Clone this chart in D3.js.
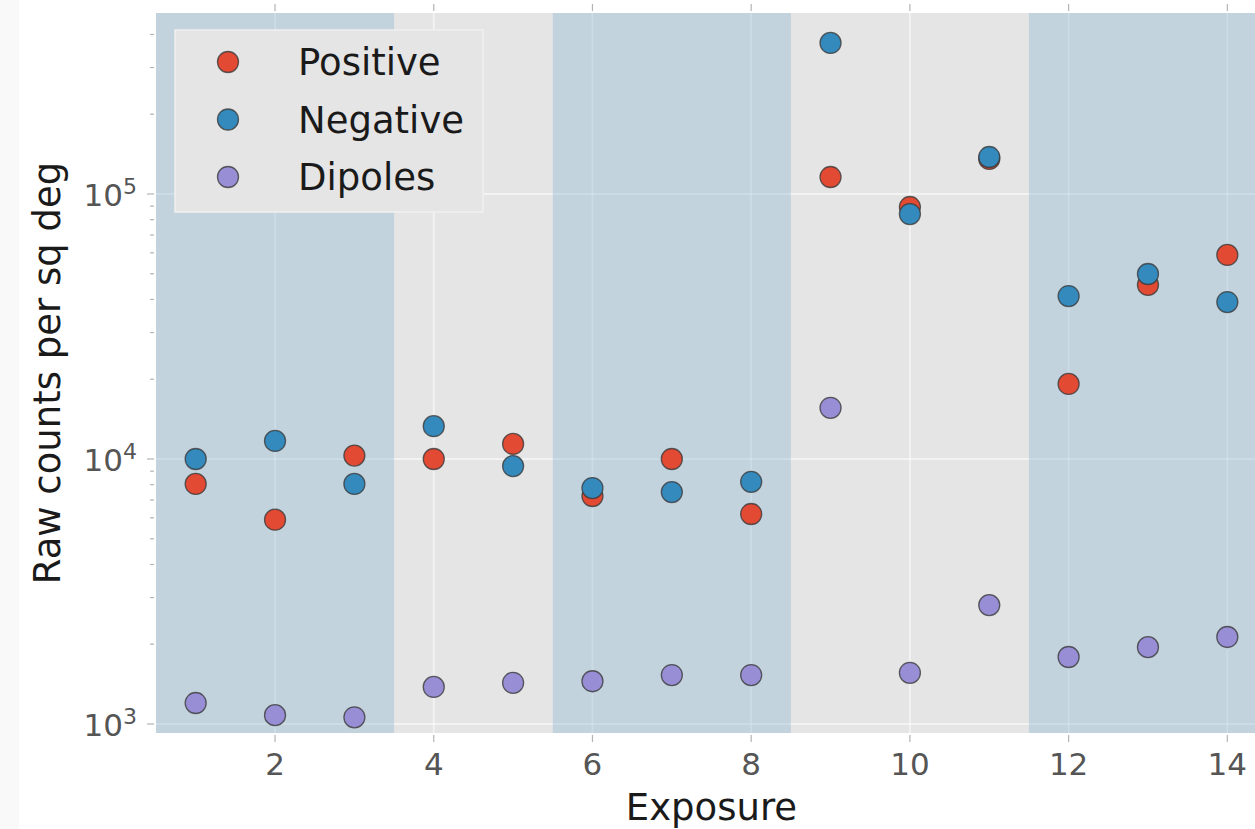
<!DOCTYPE html>
<html>
<head>
<meta charset="utf-8">
<script src="https://cdn.jsdelivr.net/npm/d3@7"></script>
<style>
  html, body { margin: 0; padding: 0; background: #ffffff; }
  svg { display: block; }
  text { font-family: "DejaVu Sans", sans-serif; }
</style>
</head>
<body>
<svg id="chart" width="1255" height="829"></svg>
<script>
// ---- data ----
const exposures = [1, 2, 3, 4, 5, 6, 7, 8, 9, 10, 11, 12, 13, 14];
const positive = [8050, 5900, 10300, 10000, 11400, 7250, 10000, 6200, 115900, 89300, 135600, 19200, 45400, 58900];
const negative = [10000, 11700, 8050, 13300, 9400, 7770, 7500, 8200, 371500, 84000, 137900, 41200, 49900, 39100];
const dipoles  = [1200, 1080, 1060, 1380, 1430, 1450, 1530, 1530, 15600, 1560, 2810, 1790, 1950, 2130];
const seriesNames = ["Positive", "Negative", "Dipoles"];
const seriesColors = ["#E24A33", "#348ABD", "#988ED5"];
const bandStarts = [0.5, 5.5, 11.5];
const bandEnds = [3.5, 8.5, 14.5];
const xTicks = [2, 4, 6, 8, 10, 12, 14];
const yTicks = [1e3, 1e4, 1e5];
const yTickExp = ["3", "4", "5"];
const xLabel = "Exposure";
const yLabel = "Raw counts per sq deg";

// ---- layout ----
const svg = d3.select("#chart");
const plotTop = 13, plotBottom = 733;
const x = d3.scaleLinear().domain([0.5, 14.5]).range([156, 1267]);
const y = d3.scaleLog().domain([1e3, 1e5]).range([724, 194]);
const yMin = y.invert(plotBottom), yMax = y.invert(plotTop);
const left = x(0.5), right = x(14.5);

// faint left page strip
svg.append("rect").attr("x", 0).attr("y", 0).attr("width", 19).attr("height", 829).attr("fill", "#f9f9f9");

// background
svg.append("rect").attr("x", left).attr("y", plotTop)
  .attr("width", right - left).attr("height", plotBottom - plotTop)
  .attr("fill", "#E5E5E5");

// grid
const grid = svg.append("g").attr("stroke", "#ffffff").attr("stroke-width", 1.8).attr("stroke-opacity", 0.55);
xTicks.forEach(t => grid.append("line")
  .attr("x1", x(t)).attr("x2", x(t)).attr("y1", plotTop).attr("y2", plotBottom));
yTicks.forEach(t => grid.append("line")
  .attr("x1", left).attr("x2", right).attr("y1", y(t)).attr("y2", y(t)));

// shaded bands
svg.append("g").selectAll("rect").data(bandStarts).join("rect")
  .attr("x", d => x(d))
  .attr("width", (d, i) => x(bandEnds[i]) - x(d))
  .attr("y", plotTop).attr("height", plotBottom - plotTop)
  .attr("fill", "rgb(116,169,206)").attr("fill-opacity", 0.3);

// ticks
const tickG = svg.append("g").attr("stroke", "#b4b4b4").attr("stroke-width", 1.2);
xTicks.forEach(t => {
  tickG.append("line").attr("x1", x(t)).attr("x2", x(t)).attr("y1", plotBottom + 2).attr("y2", plotBottom + 9);
  tickG.append("line").attr("x1", x(t)).attr("x2", x(t)).attr("y1", plotTop - 9).attr("y2", plotTop - 2);
});
yTicks.forEach(t => {
  tickG.append("line").attr("x1", left - 9).attr("x2", left - 2).attr("y1", y(t)).attr("y2", y(t));
});
// minor ticks
const minor = [];
[1e2, 1e3, 1e4, 1e5].forEach(dec => { for (let k = 2; k <= 9; k++) { const v = dec * k; if (v >= yMin && v <= yMax) minor.push(v); } });
minor.forEach(v => tickG.append("line").attr("x1", left - 6).attr("x2", left - 2).attr("y1", y(v)).attr("y2", y(v)));

// tick labels
svg.append("g").selectAll("text").data(xTicks).join("text")
  .attr("x", d => x(d)).attr("y", 775)
  .attr("text-anchor", "middle").attr("font-size", 31).attr("fill", "#555555")
  .text(d => d);

const yl = svg.append("g").selectAll("text").data(yTicks).join("text")
  .attr("x", 137).attr("y", d => y(d) + 12)
  .attr("text-anchor", "end").attr("font-size", 31).attr("fill", "#555555");
yl.append("tspan").text("10");
yl.append("tspan").attr("dy", -12).attr("font-size", 22).text((d, i) => yTickExp[i]);

// axis labels
svg.append("text").attr("x", (left + right) / 2).attr("y", 820)
  .attr("text-anchor", "middle").attr("font-size", 37).attr("fill", "#1a1a1a").text(xLabel);
svg.append("text").attr("transform", `translate(60,${(plotTop + plotBottom) / 2}) rotate(-90)`)
  .attr("text-anchor", "middle").attr("font-size", 37).attr("fill", "#1a1a1a").text(yLabel);

// points
const allSeries = [positive, negative, dipoles];
allSeries.forEach((vals, si) => {
  svg.append("g").selectAll("circle").data(vals).join("circle")
    .attr("cx", (d, i) => x(exposures[i]))
    .attr("cy", d => y(d))
    .attr("r", 10.5)
    .attr("fill", seriesColors[si])
    .attr("stroke", "#3a3a3a").attr("stroke-width", 1.3).attr("stroke-opacity", 0.8);
});

// legend
const lg = svg.append("g");
lg.append("rect").attr("x", 175).attr("y", 30).attr("width", 308).attr("height", 182)
  .attr("fill", "#E5E5E5").attr("stroke", "#f0f0f0").attr("stroke-width", 1.5);
seriesNames.forEach((name, i) => {
  const cy = 62 + i * 57.5;
  lg.append("circle").attr("cx", 228).attr("cy", cy).attr("r", 10.5)
    .attr("fill", seriesColors[i]).attr("stroke", "#3a3a3a").attr("stroke-width", 1.3).attr("stroke-opacity", 0.8);
  lg.append("text").attr("x", 298).attr("y", cy + 13).attr("font-size", 37).attr("fill", "#1a1a1a").text(name);
});
</script>
</body>
</html>
